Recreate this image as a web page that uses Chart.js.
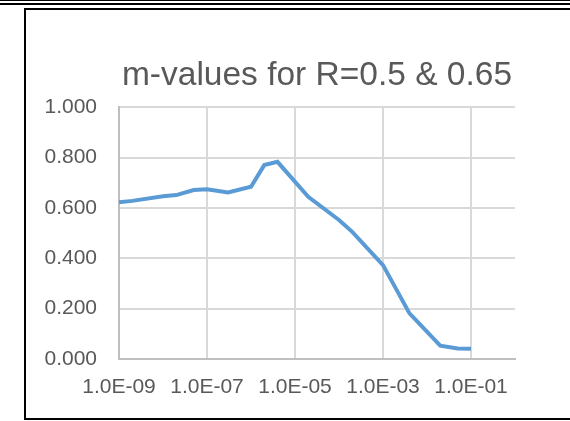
<!DOCTYPE html>
<html>
<head>
<meta charset="utf-8">
<script src="https://cdn.jsdelivr.net/npm/chart.js@4/dist/chart.umd.min.js"></script>
<style>
    html, body { margin: 0; padding: 0; background: #fff; }
    .page { position: relative; width: 570px; height: 421px; overflow: hidden; }
    .rule-top { position: absolute; left: 0; top: 0; width: 570px; height: 2px; border-top: 1px solid #000; border-bottom: 2px solid #000; }
    .frame { position: absolute; left: 24px; top: 8px; width: 560px; height: 408px; border: 2px solid #000; }
    #chart { position: absolute; left: 0; top: 0; }
</style>
</head>
<body>
<div class="page">
    <div class="rule-top"></div>
    <div class="frame"></div>
    <canvas id="chart" width="570" height="421"></canvas>
</div>
<script>
    // values
    const xValues = [1e-9, 2e-9, 1e-8, 2e-8, 5e-8, 1e-7, 3e-7, 1e-6, 2e-6, 4e-6, 2e-5, 1e-4, 2e-4, 1e-3, 4e-3, 2e-2, 5e-2, 1e-1];
    const mValues = [0.622, 0.628, 0.646, 0.651, 0.671, 0.674, 0.661, 0.684, 0.770, 0.783, 0.644, 0.552, 0.505, 0.373, 0.181, 0.053, 0.042, 0.041];
    const xTicks = [1e-9, 1e-7, 1e-5, 1e-3, 1e-1];
    const yTicks = [0, 0.2, 0.4, 0.6, 0.8, 1.0];

    const textColor = '#595959';
    const fontFamily = "'Liberation Sans', Arial, sans-serif";

    const points = xValues.map(function (x, i) {
        return { x: x, y: mValues[i] };
    });

    new Chart(document.getElementById('chart'), {
        type: 'line',
        data: {
            datasets: [{
                data: points,
                borderColor: '#5B9BD5',
                borderWidth: 4,
                pointRadius: 0,
                tension: 0,
                fill: false
            }]
        },
        options: {
            responsive: false,
            animation: false,
            layout: {
                padding: { left: 0, right: 55, top: 0, bottom: 0 }
            },
            plugins: {
                legend: { display: false },
                tooltip: { enabled: false },
                title: {
                    display: true,
                    // only as wide as the plot area, so the text centres over it
                    fullSize: false,
                    text: 'm-values for R=0.5 & 0.65',
                    color: textColor,
                    font: { family: fontFamily, size: 33.5, weight: 'normal', lineHeight: 1.2 },
                    padding: { top: 56, bottom: 11 }
                }
            },
            scales: {
                x: {
                    type: 'logarithmic',
                    min: 1e-9,
                    max: 1,
                    afterBuildTicks: function (scale) {
                        scale.ticks = xTicks.map(function (v) { return { value: v }; });
                    },
                    afterFit: function (scale) {
                        scale.height = 62;
                    },
                    ticks: {
                        color: textColor,
                        font: { family: fontFamily, size: 21 },
                        padding: 16,
                        maxRotation: 0,
                        autoSkip: false,
                        callback: function (value) {
                            const exp = Math.round(Math.log10(value));
                            const sign = exp < 0 ? '-' : '+';
                            return '1.0E' + sign + String(Math.abs(exp)).padStart(2, '0');
                        }
                    },
                    grid: {
                        color: '#d9d9d9',
                        lineWidth: 2,
                        drawTicks: false
                    },
                    border: { color: '#bfbfbf', width: 2 }
                },
                y: {
                    min: 0,
                    max: 1,
                    afterBuildTicks: function (scale) {
                        scale.ticks = yTicks.map(function (v) { return { value: v }; });
                    },
                    afterFit: function (scale) {
                        scale.width = 119;
                    },
                    ticks: {
                        color: textColor,
                        font: { family: fontFamily, size: 21 },
                        padding: 22,
                        callback: function (value) {
                            return Number(value).toFixed(3);
                        }
                    },
                    grid: {
                        color: '#d9d9d9',
                        lineWidth: 2,
                        drawTicks: false
                    },
                    border: { color: '#bfbfbf', width: 2 }
                }
            }
        }
    });
</script>
</body>
</html>
